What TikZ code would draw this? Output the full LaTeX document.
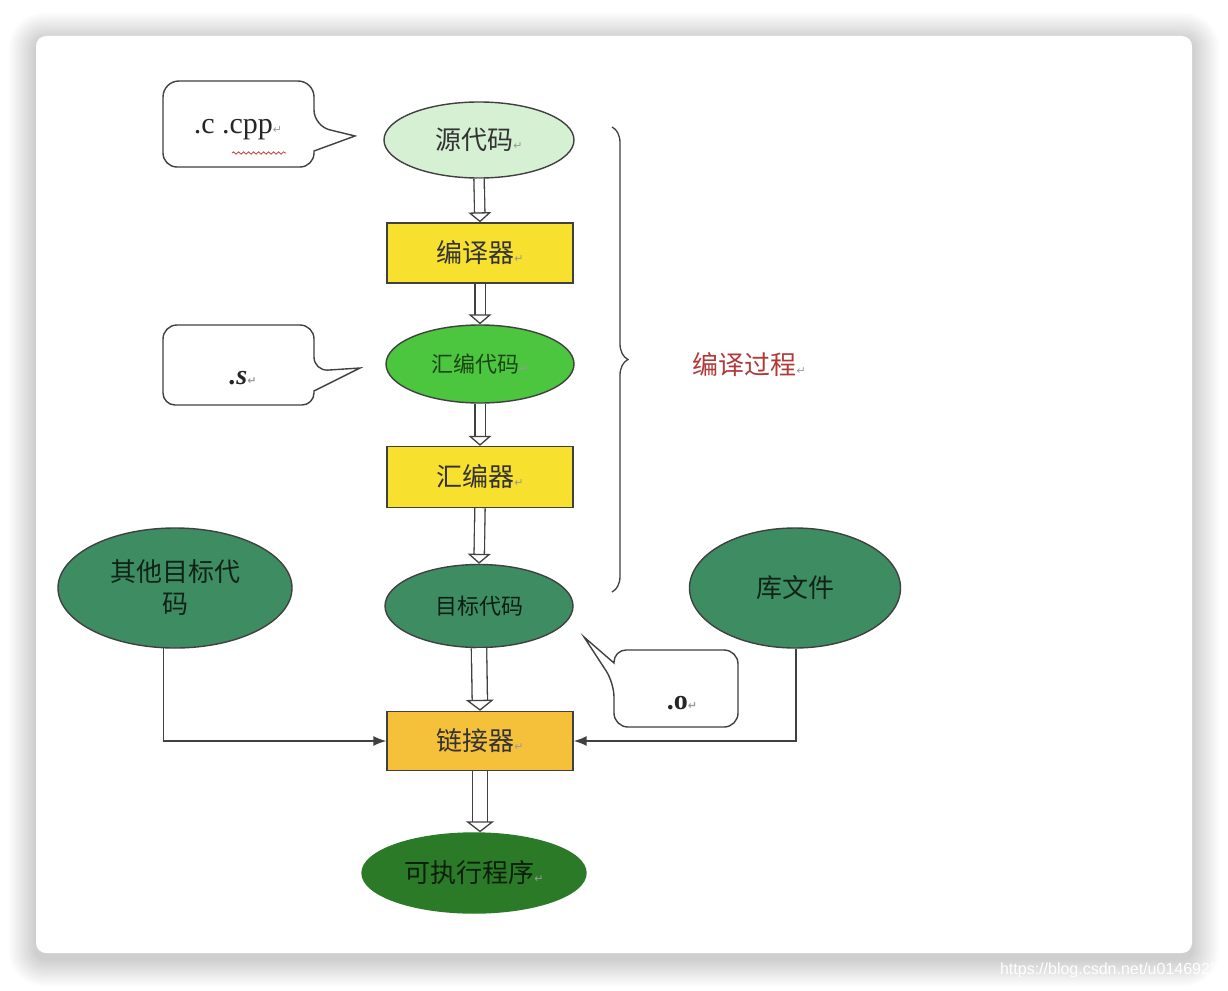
\documentclass[tikz,border=0pt]{standalone}
\usepackage{fontspec}
\setmainfont{Liberation Serif}
\newfontfamily\cjk{Noto Sans CJK SC}
\newfontfamily\dvs{DejaVu Sans}
\newfontfamily\lsans{Liberation Sans}
\usetikzlibrary{shapes.geometric,arrows.meta,decorations.pathreplacing,decorations.pathmorphing}
\definecolor{lc}{HTML}{404040}
\definecolor{srcc}{HTML}{D6F0D4}
\definecolor{yelc}{HTML}{F8E02E}
\definecolor{asmc}{HTML}{4CC63E}
\definecolor{objc}{HTML}{3E8D62}
\definecolor{lnkc}{HTML}{F6C13A}
\definecolor{exec}{HTML}{2B7A27}
\definecolor{redt}{HTML}{B03A3A}
\definecolor{retc}{HTML}{9A9A9A}
\newcommand\retmark{{\dvs\fontsize{11}{11}\selectfont\color{retc}↵}}
\tikzset{
  ell/.style={ellipse, draw=lc, line width=1.4pt, inner sep=0pt},
  boxn/.style={rectangle, draw=lc, line width=1.4pt, inner sep=0pt, minimum width=186pt, minimum height=60pt},
  flow/.style={draw=lc, line width=1.3pt, double=white, double distance=9pt,
    -{Triangle[open, fill=white, width=23pt, length=10pt, line width=1.3pt]}},
  flowwide/.style={draw=lc, line width=1.3pt, double=white, double distance=14pt,
    -{Triangle[open, fill=white, width=28pt, length=11pt, line width=1.3pt]}},
  side/.style={draw=lc, line width=1.5pt, -{Latex[length=13pt, width=10pt]}},
  co/.style={draw=lc, line width=1.4pt, fill=white},
  big/.style={font=\cjk\fontsize{26}{32}\selectfont},
  mid/.style={font=\cjk\fontsize{22}{26}\selectfont},
}
\begin{document}
\begin{tikzpicture}[x=1pt,y=-1pt]
\useasboundingbox (0,0) rectangle (1228,990);
\fill[white] (0,0) rectangle (1228,990);
% card shadow
\foreach \i [evaluate=\i as \r using 10+\i*1.6, evaluate=\i as \d using \i*1.7] in {1,...,16}
  \fill[black, opacity=0.011, rounded corners=\r pt] (36-\d, 36-\d+4) rectangle (1192+\d, 953+\d+6);
\fill[white, rounded corners=10pt] (36,36) rectangle (1192,953);

% main column
\node[ell, fill=srcc, minimum width=190pt, minimum height=76pt, big, text=black!80] (src) at (479,140) {源代码\retmark};
\node[boxn, fill=yelc, big, text=black!80] (comp) at (480,253) {编译器\retmark};
\node[ell, fill=asmc, minimum width=188pt, minimum height=78pt, mid, text=black!65!asmc] (asm) at (480,364) {汇编代码\retmark};
\node[boxn, fill=yelc, minimum height=61pt, big, text=black!80] (asmr) at (480,477) {汇编器\retmark};
\node[ell, fill=objc, minimum width=188pt, minimum height=83pt, mid, text=black!80!objc] (obj) at (479,606) {目标代码};
\node[boxn, fill=lnkc, minimum height=59pt, big, text=black!80] (lnk) at (480,741) {链接器\retmark};
\node[ell, draw=exec, fill=exec, minimum width=224pt, minimum height=80pt, big, text=black!75!exec] (exe) at (474,873) {可执行程序\retmark};

% side nodes
\node[ell, fill=objc, minimum width=234pt, minimum height=120pt, big, text=black!75!objc, align=center] (other) at (175,588) {其他目标代\\码};
\node[ell, fill=objc, minimum width=211pt, minimum height=120pt, big, text=black!75!objc] (lib) at (795,588) {库文件};

% flow arrows
\draw[flow] (src.south) -- (comp.north);
\draw[flow] (comp.south) -- (asm.north);
\draw[flow] (asm.south) -- (asmr.north);
\draw[flow] (asmr.south) -- (obj.north);
\draw[flowwide] (obj.south) -- (lnk.north);
\draw[flowwide] (lnk.south) -- (lnk.south |- exe.north);
\draw[side] (other.259) |- (lnk.west);
\draw[side] (lib.271) |- (lnk.east);

% callouts
\draw[co, rounded corners=16pt] (163,124) -- (163,81) -- (314,81) -- (314,126) [sharp corners] -- (355,136) -- (314,151) [rounded corners=14pt] -- (314,167) -- (163,167) -- cycle;
\node[font=\fontsize{30}{34}\selectfont, text=black!85] (cdot) at (238,130) {.c .cpp\retmark};
\draw[decorate, decoration={snake, amplitude=1.2pt, segment length=5pt}, draw=red!50!gray, line width=0.8pt] (232,153) -- (286,153);

\draw[co, rounded corners=14pt] (163,365) -- (163,325) -- (314,325) -- (314,371) [sharp corners] -- (360,368) -- (314,391) [rounded corners=12pt] -- (314,405) -- (163,405) -- cycle;
\node[font=\fontsize{28}{32}\selectfont\bfseries\itshape, text=black!85] (sdot) at (243,378) {.s\retmark};

\draw[co, rounded corners=14pt] (676,650) -- (738,650) -- (738,727) -- (614,727) -- (614,683) [sharp corners] -- (584,637) -- (614,663) [rounded corners=12pt] -- (614,650) -- cycle;
\node[font=\fontsize{28}{32}\selectfont\bfseries, text=black!85] (odot) at (682,703) {.o\retmark};

% brace
\draw[decorate, decoration={brace, amplitude=16pt}, draw=lc, line width=1.3pt] (612,127) -- (612,592);
\node[big, text=redt, anchor=west] (proc) at (689,365) {编译过程\retmark};

% watermark
\node[anchor=east, text=white, font=\lsans\fontsize{16}{16}\selectfont, inner sep=0pt] (wm) at (1228,970) {https://blog.csdn.net/u01469222};
\end{tikzpicture}
\end{document}
